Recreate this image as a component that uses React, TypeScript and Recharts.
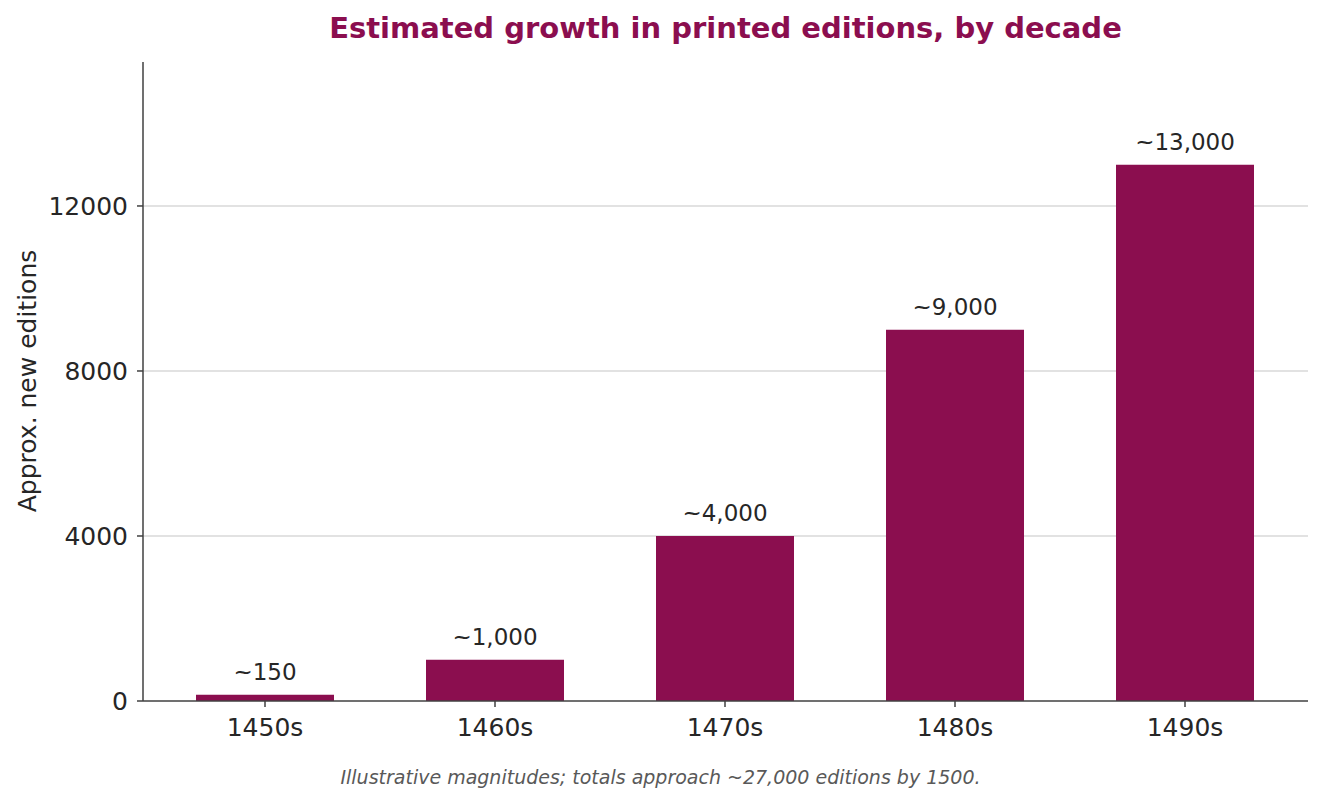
import React from 'react';
import { BarChart, Bar, XAxis, YAxis, CartesianGrid, LabelList } from 'recharts';

const decades = ['1450s', '1460s', '1470s', '1480s', '1490s'];
const editions = [150, 1000, 4000, 9000, 13000];
const editionLabels = ['~150', '~1,000', '~4,000', '~9,000', '~13,000'];
const yTicks = [0, 4000, 8000, 12000];
const gridTicks = [4000, 8000, 12000];

const data = decades.map((decade, i) => ({
  decade,
  editions: editions[i],
  label: editionLabels[i],
}));

const FONT = '"DejaVu Sans", sans-serif';
const BAR_COLOR = '#8b0e4f';
const TEXT = '#262626';

export default function App() {
  return (
    <div
      style={{
        position: 'absolute',
        left: 0,
        top: 0,
        width: 1323,
        height: 803,
        background: '#fff',
        fontFamily: FONT,
      }}
    >
      <div
        style={{
          position: 'absolute',
          left: 143,
          width: 1165,
          top: 11,
          lineHeight: '34px',
          textAlign: 'center',
          fontSize: 29,
          fontWeight: 'bold',
          color: BAR_COLOR,
        }}
      >
        Estimated growth in printed editions, by decade
      </div>
      <div
        style={{
          position: 'absolute',
          left: 27,
          top: 381,
          transform: 'translate(-50%, -50%) rotate(-90deg)',
          whiteSpace: 'nowrap',
          fontSize: 25,
          color: TEXT,
        }}
      >
        Approx. new editions
      </div>
      <div
        style={{
          position: 'absolute',
          left: 0,
          width: 1321,
          top: 766,
          lineHeight: '22px',
          textAlign: 'center',
          fontSize: 19,
          fontStyle: 'italic',
          color: '#595959',
        }}
      >
        Illustrative magnitudes; totals approach ~27,000 editions by 1500.
      </div>
      <BarChart
        width={1323}
        height={803}
        data={data}
        margin={{ top: 62, right: 15, left: 63, bottom: 62 }}
        style={{ position: 'absolute', left: 0, top: 0 }}
      >
        <CartesianGrid
          vertical={false}
          horizontalValues={gridTicks}
          stroke="#d9d9d9"
          strokeWidth={1.5}
        />
        <XAxis
          dataKey="decade"
          height={40}
          padding={{ left: 7, right: 8 }}
          stroke="#404040"
          strokeWidth={1.5}
          tickSize={6}
          tick={{ fontSize: 25, fill: TEXT, fontFamily: FONT }}
          tickMargin={11}
        />
        <YAxis
          width={80}
          domain={[0, 15490]}
          ticks={yTicks}
          allowDataOverflow
          stroke="#404040"
          strokeWidth={1.5}
          tickSize={6}
          tick={{ fontSize: 25, fill: TEXT, fontFamily: FONT }}
          tickMargin={9}
        />
        <Bar dataKey="editions" fill={BAR_COLOR} barSize={138} isAnimationActive={false}>
          <LabelList
            dataKey="label"
            position="top"
            offset={15}
            style={{ fontSize: 23, fill: TEXT, fontFamily: FONT }}
          />
        </Bar>
      </BarChart>
    </div>
  );
}
